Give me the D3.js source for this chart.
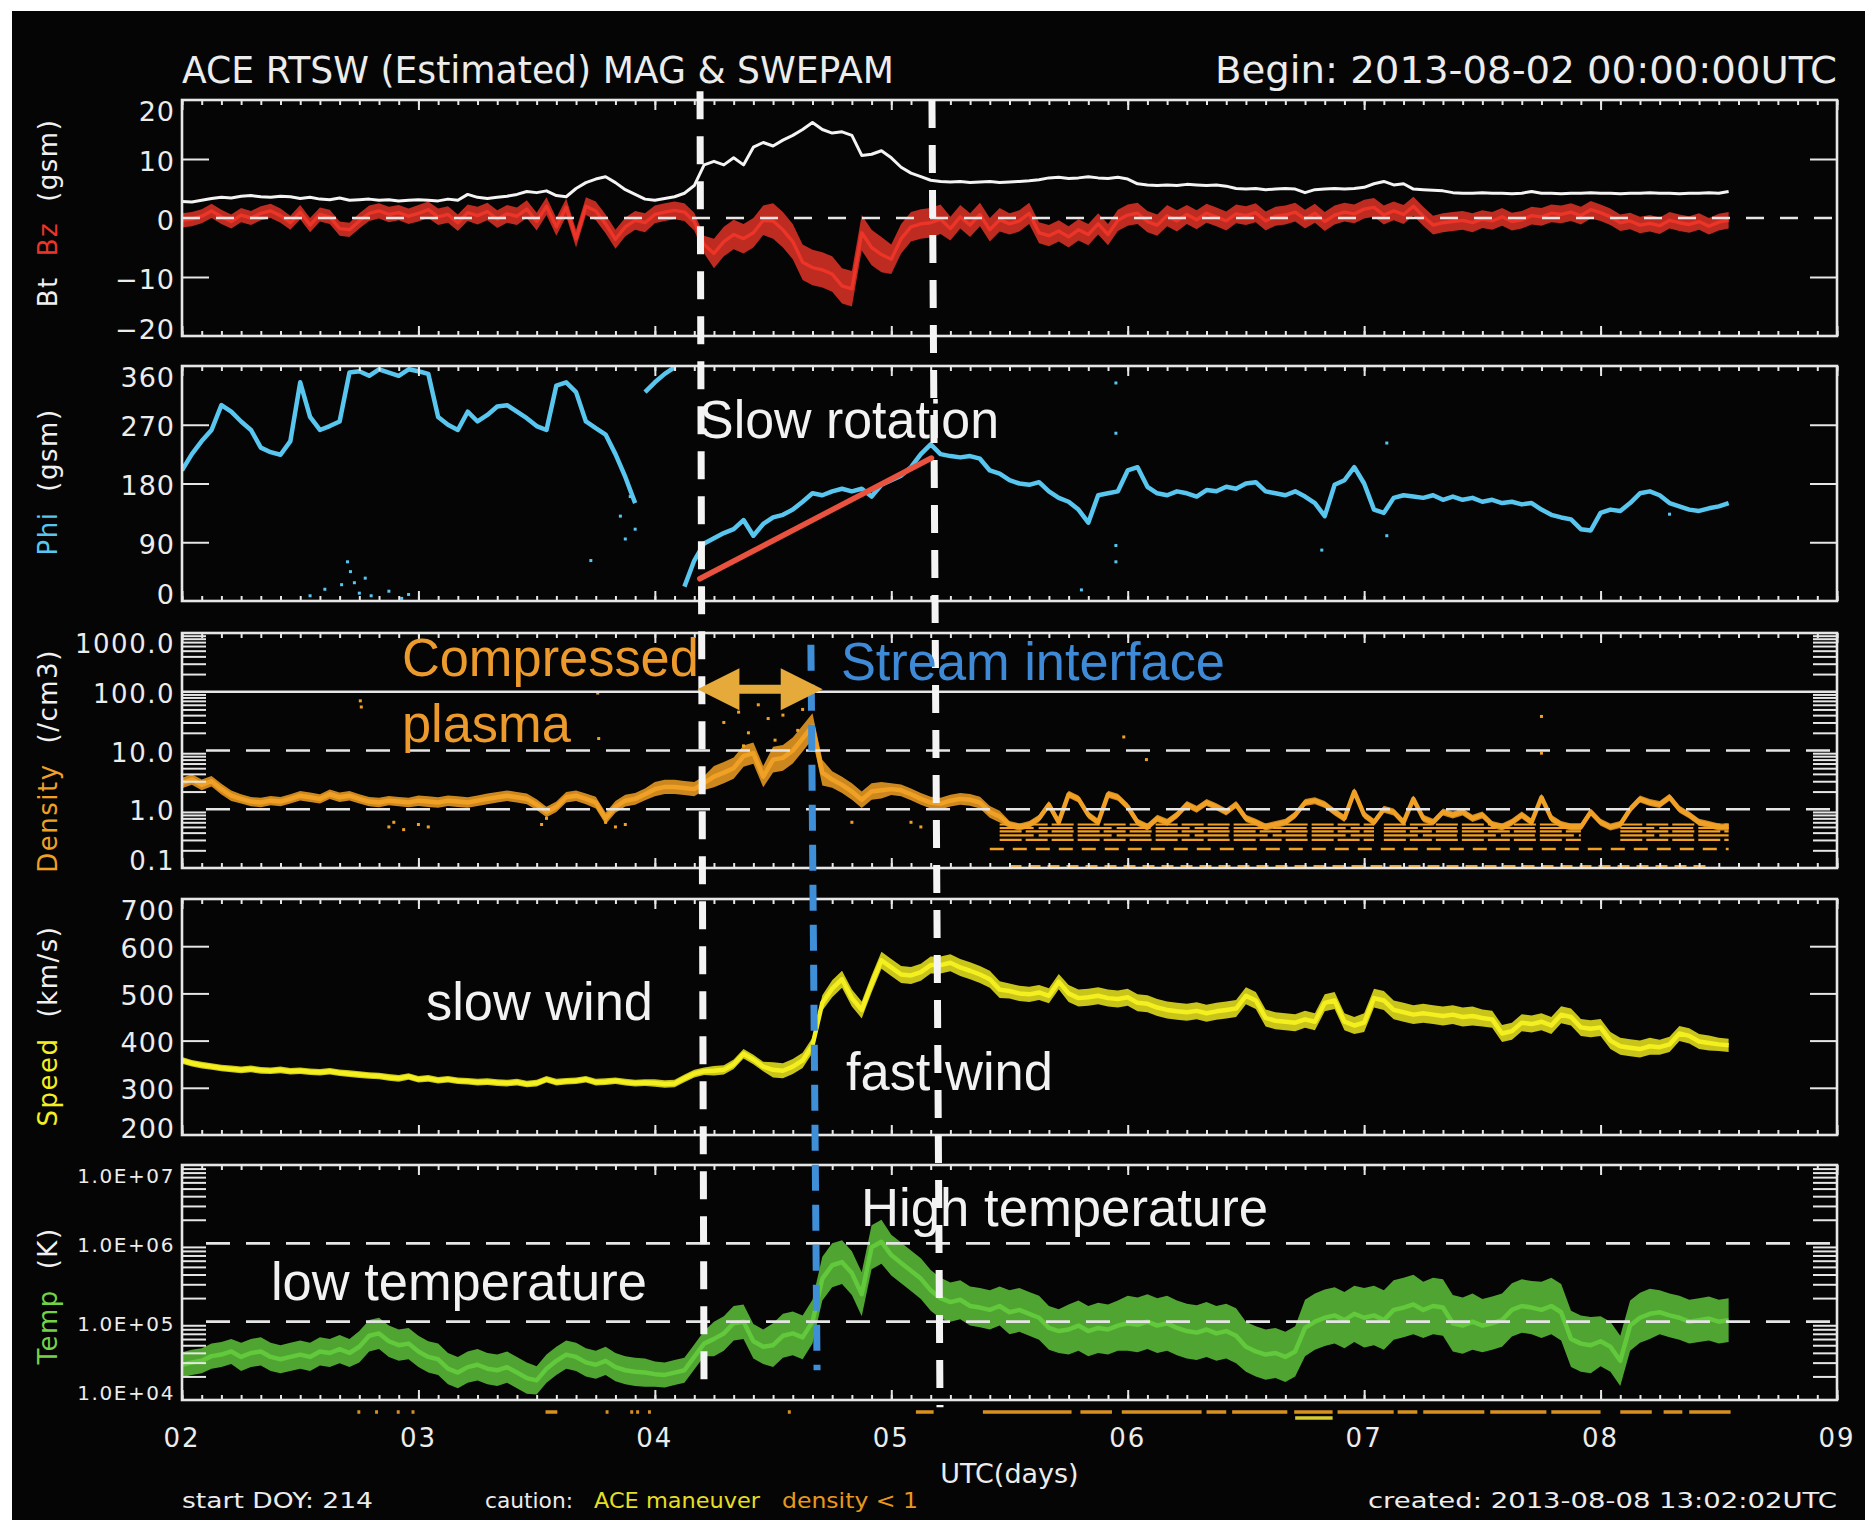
<!DOCTYPE html>
<html>
<head>
<meta charset="utf-8">
<title>ACE RTSW (Estimated) MAG &amp; SWEPAM</title>
<script src="https://cdn.jsdelivr.net/npm/d3@7"></script>
<style>
  html, body { margin: 0; padding: 0; background: #fff; }
  svg { display: block; }
</style>
</head>
<body>
<svg id="chart" width="1865" height="1520"></svg>
<script>
// ---------------------------------------------------------------
// Hourly samples starting 2013-08-02 00:00 UTC (index = hour).
// ---------------------------------------------------------------
const dayTicks  = [2, 3, 4, 5, 6, 7, 8, 9];
const dayLabels = ["02", "03", "04", "05", "06", "07", "08", "09"];

// Bt, nT
const btValues = [
  2.8,2.7,3.0,3.3,3.5,3.4,3.7,3.8,3.6,3.5,
  3.7,3.6,3.3,3.5,3.2,3.1,3.4,3.0,3.1,3.2,
  3.0,3.1,2.9,3.0,3.1,3.0,2.9,3.2,3.0,4.0,
  3.5,3.3,3.5,3.7,4.0,4.5,4.3,4.6,3.8,3.6,
  5.0,6.0,6.6,7.0,6.0,4.8,4.0,3.2,3.0,3.3,
  3.6,4.2,5.5,9.0,9.6,9.0,10.2,9.0,12.0,12.8,
  12.2,13.2,14.0,15.0,16.2,15.0,14.4,14.6,14.0,10.6,
  10.8,11.4,10.2,8.6,7.6,7.0,6.4,6.2,6.1,6.2,
  6.0,6.1,6.2,6.0,6.1,6.2,6.3,6.5,6.8,6.9,
  6.7,6.8,7.0,6.8,6.7,6.9,6.6,5.8,5.6,5.5,
  5.6,5.5,5.7,5.6,5.5,5.6,5.4,5.0,4.9,5.0,
  4.8,4.9,5.0,4.9,4.3,4.8,4.9,5.0,4.9,5.0,
  5.2,5.8,6.2,5.6,5.8,4.9,4.8,4.7,4.6,4.3,
  4.2,4.2,4.3,4.2,4.2,4.1,4.2,4.5,4.2,4.2,
  4.1,4.2,4.2,4.3,4.2,4.2,4.1,4.2,4.2,4.3,
  4.2,4.2,4.1,4.2,4.2,4.3,4.2,4.5
];

// Bz (GSM), nT
const bzValues = [
  -0.4,-0.2,0.3,1.2,0.2,-0.6,0.5,0.0,0.8,1.2,
  0.4,-0.8,1.0,-1.2,0.6,0.2,-1.8,-2.0,-0.5,0.8,
  1.2,0.6,0.9,0.3,0.8,1.4,0.2,0.6,-0.8,0.9,
  0.4,1.1,-0.2,0.7,0.3,1.5,-0.6,2.0,-1.5,1.8,
  -3.5,2.0,1.2,-1.0,-3.6,-1.5,-0.4,-0.8,0.6,1.0,
  1.3,1.0,-0.6,-4.5,-6.0,-4.0,-2.8,-3.5,-2.5,-0.4,
  -0.5,-2.0,-4.0,-7.5,-8.4,-8.8,-9.5,-11.5,-12.0,-2.5,
  -5.0,-6.2,-7.0,-3.5,-1.5,-1.0,-0.8,-0.2,-1.8,0.2,
  -1.2,0.6,-2.0,-0.3,-1.0,-0.5,0.8,-2.5,-3.0,-2.2,
  -3.2,-2.0,-2.8,-1.0,-2.8,-0.4,0.5,0.8,-0.6,-1.2,
  0.4,-0.5,0.6,-0.3,0.8,0.2,-0.5,0.7,0.4,0.9,
  -0.5,0.3,0.5,1.0,-0.2,0.8,-0.6,0.5,1.0,0.7,
  1.5,1.8,0.5,1.2,0.6,2.0,0.3,-1.2,-0.8,-0.6,
  -0.4,-0.8,-0.2,-0.5,0.2,-0.6,-0.3,0.4,0.2,0.8,
  0.6,1.0,0.4,1.4,0.9,0.2,-0.8,-0.5,-1.2,-0.9,
  -1.3,-0.4,-0.8,-1.1,-0.6,-1.4,-0.7,-0.4
];
// scatter half-width of Bz per 6-hour block, nT
const bzSpread = [
  1.2,1.2,1.2,1.3,1.4,1.5,1.5,1.6,1.5,2.5,3.0,3.0,2.5,2.0,
  1.8,1.8,1.8,1.6,1.6,1.6,1.6,1.6,1.5,1.5,1.4,1.4,1.4
];

// Phi (GSM), degrees
const phiValues = [
  200,225,245,262,300,290,275,262,235,228,
  224,245,335,282,262,268,275,350,352,345,
  355,350,345,355,352,348,282,270,262,290,
  275,285,298,300,290,280,268,262,330,335,
  320,275,265,255,225,190,150,320,335,348,
  358,22,62,88,96,104,110,124,100,118,
  128,132,140,152,165,162,168,172,168,172,
  160,178,185,192,205,225,240,225,222,220,
  222,218,200,195,185,180,178,182,168,158,
  152,140,120,162,165,168,200,205,175,165,
  162,168,165,160,170,168,175,172,180,182,
  168,165,162,168,160,150,130,178,185,205,
  180,140,135,158,162,160,158,162,155,160,
  155,158,152,155,150,152,148,150,140,132,
  128,125,110,108,135,140,138,150,165,168,
  162,150,145,140,138,142,145,150
];
// isolated Phi samples [hour, degrees]
const phiScatter = [
  [13,8],[14.5,18],[16.2,25],[16.8,60],[17.1,45],[17.5,28],[18,12],[18.6,35],
  [19.2,8],[21,15],[22.3,4],[23,10],[41.5,62],[44.5,130],[45,95],[45.5,160],
  [46,110],[91.3,17],[94.8,334],[94.8,257],[94.8,85],[94.8,60],[115.7,78],
  [122.3,242],[122.3,100],[151,133]
];

// proton density, /cm3
const densityValues = [
  2.8,3.2,2.6,3.0,2.2,1.7,1.5,1.35,1.3,1.4,
  1.35,1.5,1.7,1.6,1.5,1.8,1.6,1.7,1.5,1.35,
  1.3,1.4,1.35,1.3,1.4,1.35,1.3,1.4,1.35,1.3,
  1.4,1.5,1.6,1.7,1.6,1.5,1.2,0.9,1.1,1.6,
  1.7,1.5,1.3,0.7,1.1,1.4,1.5,1.8,2.2,2.4,
  2.4,2.3,2.2,2.8,3.6,4.2,5.0,8.0,9.0,3.6,
  7.0,7.5,10,16,26,4.2,3.2,2.6,2.0,1.45,
  2.0,2.1,2.2,2.1,1.8,1.5,1.3,1.25,1.4,1.5,
  1.45,1.3,0.9,0.75,0.55,0.5,0.55,0.7,1.2,0.6,
  1.8,1.5,0.8,0.6,1.8,1.6,1.1,0.6,0.5,0.7,
  0.6,0.8,1.2,1.0,1.3,1.1,0.9,1.2,0.7,0.6,
  0.5,0.55,0.6,0.8,1.3,1.4,1.2,0.9,0.7,2.0,
  0.8,0.6,1.0,0.9,0.6,1.5,0.7,0.6,0.9,0.8,
  0.9,0.7,0.8,0.55,0.5,0.6,0.8,0.6,1.6,0.7,
  0.55,0.5,0.5,0.9,0.6,0.5,0.55,1.0,1.5,1.3,
  1.2,1.6,1.0,0.8,0.6,0.55,0.5,0.5
];
// scatter half-width of density per 6-hour block, dex
const densitySpread = [
  0.09,0.08,0.08,0.08,0.09,0.09,0.09,0.10,0.12,0.18,0.22,0.14,0.10,0.10,
  0.06,0.06,0.06,0.06,0.06,0.06,0.06,0.06,0.06,0.06,0.06,0.06,0.06
];
// isolated density samples [hour, /cm3]
const densityScatter = [
  [55,30],[56.5,45],[57.5,20],[58.5,60],[59.5,35],[61,40],[62.5,22],[63,50],
  [60.2,15],[57,12],[21,0.5],[21.5,0.6],[22.5,0.45],[24,0.55],[25,0.5],
  [36.5,0.55],[37,0.7],[43,0.6],[44,0.5],[45,0.55],[18.1,70],[18.2,55],
  [42.2,95],[42.3,16],[68,0.6],[74,0.6],[75,0.5],[95.6,17],[97.9,7],
  [138,38],[138,9]
];
// quantised low-density rows (density < 1 flag) [startHour, endHour]
const densityFloorLevels = [0.55, 0.48, 0.42, 0.36, 0.30];
const densityFloorSpans  = [[83,121],[122,142],[146,157]];
const densityLowRow      = 0.21;

// bulk speed, km/s
const speedValues = [
  358,352,348,345,342,340,338,340,337,336,
  338,335,336,334,333,335,332,330,328,326,
  325,322,320,324,318,320,316,318,315,314,
  312,313,311,310,312,308,310,318,312,314,
  315,318,312,313,315,312,310,311,310,308,
  309,320,330,335,336,338,350,372,360,345,
  338,336,345,358,390,480,510,530,490,465,
  520,570,555,540,538,545,560,560,565,555,
  548,540,530,508,505,500,498,502,495,525,
  500,490,492,495,490,488,492,480,478,470,
  465,462,460,463,458,462,465,468,495,485,
  448,442,440,438,445,440,480,485,440,432,
  438,490,485,465,460,455,458,455,452,455,
  450,452,448,445,415,420,438,435,440,432,
  455,450,428,425,428,400,388,385,382,388,
  386,392,415,410,398,395,392,390
];
// scatter half-width of speed per 6-hour block, km/s
const speedSpread = [
  7,7,7,7,7,7,7,7,8,10,16,18,18,18,16,18,18,18,18,18,20,20,18,18,18,16,14
];

// ion temperature, log10(K)
const tempLog10 = [
  4.45,4.48,4.50,4.56,4.58,4.62,4.55,4.60,4.62,4.55,
  4.52,4.55,4.58,4.55,4.62,4.60,4.65,4.60,4.68,4.82,
  4.85,4.75,4.70,4.72,4.62,4.55,4.52,4.40,4.35,4.42,
  4.45,4.40,4.38,4.42,4.35,4.28,4.25,4.40,4.50,4.58,
  4.55,4.48,4.45,4.50,4.42,4.38,4.36,4.35,4.33,4.32,
  4.35,4.38,4.55,4.72,4.78,4.85,4.98,5.00,4.75,4.68,
  4.70,4.82,4.85,4.80,5.00,5.55,5.72,5.76,5.62,5.35,
  5.95,6.02,5.85,5.75,5.65,5.55,5.40,5.30,5.25,5.28,
  5.20,5.18,5.15,5.20,5.12,5.15,5.10,5.05,4.92,4.88,
  4.90,4.95,4.88,4.92,4.90,4.95,4.98,4.96,5.00,4.95,
  4.98,4.92,4.88,4.86,4.90,4.85,4.88,4.82,4.68,4.62,
  4.58,4.60,4.55,4.62,4.92,5.00,5.05,5.08,5.02,5.10,
  5.05,5.08,5.02,5.15,5.18,5.22,5.15,5.20,5.18,4.98,
  4.95,5.00,4.95,4.98,5.02,5.15,5.20,5.18,5.15,5.20,
  5.12,4.78,4.72,4.70,4.75,4.68,4.50,4.95,5.05,5.10,
  5.12,5.08,5.05,5.00,5.02,5.04,5.00,5.02
];
// scatter half-width of the temperature cloud per 6-hour block, dex
const tempSpread = [
  0.16,0.18,0.18,0.20,0.20,0.20,0.18,0.18,0.16,0.22,0.28,0.28,0.26,0.25,
  0.28,0.32,0.35,0.35,0.32,0.36,0.38,0.36,0.34,0.36,0.32,0.28,0.28
];

// data-quality flags [startHour, endHour]
const cautionDensity = [
  [17.8,18.1],[19.6,19.9],[21.8,22.1],[23.3,23.6],[36.9,38.1],[43,43.3],
  [45.5,45.8],[46.1,46.4],[47.3,47.6],[61.5,61.8],[74.5,76.3],[81.3,90.3],
  [91.2,94.4],[95.4,103.5],[104,106],[106.6,112.2],[112.9,116.8],[117.3,123],
  [123.4,125.4],[126,132.2],[132.8,138.5],[139,144],[146,149.2],[150.4,152.3],
  [153,157.2]
];
const cautionManeuver = [[113, 116.8]];

// event annotations
const boundaryLines = [
  { start: [4.191, "mag", 21.5], end: [4.208, "tmp", 1.26e4], color: "#f4f4f4", dash: "28 17" },
  { start: [5.172, "mag", 20.0], end: [5.206, "tmp", 8.1e3],  color: "#f4f4f4", dash: "28 17" },
  { start: [4.660, "den", 630],  end: [4.686, "tmp", 2.4e4],  color: "#3f8fd8", dash: "26 14" }
];
const rotationTrend   = [[4.19, 34], [5.17, 219]];   // Phi panel
const compressionSpan = [4.18, 4.71];                // density panel, drawn at 110 /cm3
const annotations = [
  { text: "Slow rotation",    t: 4.187, panel: "phi", v: 250,    len: 300, color: "#f2f2f2" },
  { text: "Compressed",       t: 2.930, panel: "den", v: 186,    len: 297, color: "#ec9a2c" },
  { text: "plasma",           t: 2.930, panel: "den", v: 14,     len: 169, color: "#ec9a2c" },
  { text: "Stream interface", t: 4.787, panel: "den", v: 160,    len: 384, color: "#3f8ad6" },
  { text: "slow wind",        t: 3.032, panel: "spd", v: 444,    len: 227, color: "#f2f2f2" },
  { text: "fast wind",        t: 4.808, panel: "spd", v: 296,    len: 207, color: "#f2f2f2" },
  { text: "High temperature", t: 4.872, panel: "tmp", v: 1.68e6, len: 407, color: "#f2f2f2" },
  { text: "low temperature",  t: 2.376, panel: "tmp", v: 1.9e5,  len: 376, color: "#f2f2f2" }
];

// ---------------------------------------------------------------
const svg = d3.select("#chart");
const AXF = "'DejaVu Sans', 'Liberation Sans', sans-serif";
const ANF = "'Liberation Sans', Arial, Helvetica, sans-serif";
const FRAME = "#e6e6e6";

svg.append("rect").attr("width", 1865).attr("height", 1520).attr("fill", "#ffffff");
svg.append("rect").attr("x", 12).attr("y", 11).attr("width", 1853).attr("height", 1509).attr("fill", "#050505");

const X0 = 182, X1 = 1837;
const x = d3.scaleLinear().domain([2, 9]).range([X0, X1]);
const toSeries = vals => vals.map((v, h) => ({ t: 2 + h / 24, v }));

const panels = {
  mag: { top: 100, bottom: 336, y: d3.scaleLinear().domain([-20, 20]).range([336, 100]) },
  phi: { top: 366, bottom: 601, y: d3.scaleLinear().domain([0, 360]).range([601, 366]) },
  den: { top: 633, bottom: 868, y: d3.scaleLog().domain([0.1, 1000]).range([868, 633]) },
  spd: { top: 899, bottom: 1135, y: d3.scaleLinear().domain([200, 700]).range([1135, 899]) },
  tmp: { top: 1165, bottom: 1400, y: d3.scaleLog().domain([1e4, 1e7]).range([1400, 1165]) }
};

const defs = svg.append("defs");
Object.entries(panels).forEach(([k, p]) => {
  defs.append("clipPath").attr("id", "clip-" + k)
    .append("rect").attr("x", X0).attr("y", p.top).attr("width", X1 - X0).attr("height", p.bottom - p.top);
});
const plotLayer = k => svg.append("g").attr("clip-path", `url(#clip-${k})`);

// ---------------- data layers ----------------
// band (scatter cloud) + core line; "lin" adds spread, "log" multiplies by 10^spread,
// "tlog" series are stored as log10 values
function drawCloud(k, values, spread, mode, color, opacity, width) {
  const p = panels[k];
  const val = mode === "tlog" ? (v => Math.pow(10, v)) : (v => v);
  const pts = values.map((v, h) => ({ t: 2 + h / 24, v, s: spread ? spread[Math.floor(h / 6)] : 0 }));
  const lo = d => mode === "lin" ? d.v - d.s : mode === "log" ? d.v / Math.pow(10, d.s) : Math.pow(10, d.v - d.s);
  const hi = d => mode === "lin" ? d.v + d.s : mode === "log" ? d.v * Math.pow(10, d.s) : Math.pow(10, d.v + d.s);
  const g = plotLayer(k);
  if (spread) {
    g.append("path").datum(pts)
      .attr("fill", color).attr("fill-opacity", opacity)
      .attr("d", d3.area().x(d => x(d.t)).y0(d => p.y(lo(d))).y1(d => p.y(hi(d))));
  }
  g.append("path").datum(pts)
    .attr("fill", "none").attr("stroke", color).attr("stroke-width", width)
    .attr("stroke-linejoin", "round")
    .attr("d", d3.line().x(d => x(d.t)).y(d => p.y(val(d.v))));
  return g;
}

// Bt / Bz
drawCloud("mag", bzValues, bzSpread, "lin", "#ec3528", 0.8, 3.4);
drawCloud("mag", btValues, null, "lin", "#f4f4f4", 0, 3);

// Phi: split wherever the angle wraps or jumps
(function () {
  const p = panels.phi;
  const pts = toSeries(phiValues);
  const segs = [];
  let cur = [pts[0]];
  for (let i = 1; i < pts.length; i++) {
    if (Math.abs(pts[i].v - pts[i - 1].v) > 120) { segs.push(cur); cur = []; }
    cur.push(pts[i]);
  }
  segs.push(cur);
  const g = plotLayer("phi");
  const line = d3.line().x(d => x(d.t)).y(d => p.y(d.v));
  segs.forEach(s => {
    if (s.length > 1) g.append("path").datum(s).attr("fill", "none").attr("stroke", "#58c6ee")
      .attr("stroke-width", 4.5).attr("stroke-linejoin", "round").attr("d", line);
    else g.append("rect").attr("x", x(s[0].t) - 2).attr("y", p.y(s[0].v) - 2)
      .attr("width", 4).attr("height", 4).attr("fill", "#58c6ee");
  });
  g.selectAll("rect.pt").data(phiScatter).join("rect").attr("class", "pt")
    .attr("x", d => x(2 + d[0] / 24) - 1.5).attr("y", d => p.y(d[1]) - 1.5)
    .attr("width", 3).attr("height", 3).attr("fill", "#58c6ee");
})();

// density
(function () {
  const p = panels.den;
  const ORANGE = "#f0a024";
  const g = drawCloud("den", densityValues, densitySpread, "log", ORANGE, 0.85, 4.5);
  densityFloorLevels.forEach((lv, i) => {
    densityFloorSpans.forEach(s => {
      g.append("line")
        .attr("x1", x(2 + s[0] / 24)).attr("x2", x(2 + s[1] / 24))
        .attr("y1", p.y(lv)).attr("y2", p.y(lv))
        .attr("stroke", ORANGE).attr("stroke-width", 2.2)
        .attr("stroke-dasharray", i % 2 ? "34 5" : "22 4");
    });
  });
  g.append("line")
    .attr("x1", x(2 + 82 / 24)).attr("x2", x(2 + 157 / 24))
    .attr("y1", p.y(densityLowRow)).attr("y2", p.y(densityLowRow))
    .attr("stroke", ORANGE).attr("stroke-width", 2.4).attr("stroke-dasharray", "14 9");
  g.selectAll("rect.pt").data(densityScatter).join("rect").attr("class", "pt")
    .attr("x", d => x(2 + d[0] / 24) - 1.5).attr("y", d => p.y(d[1]) - 1.5)
    .attr("width", 3).attr("height", 3).attr("fill", ORANGE);
  // samples pinned to the lower limit
  g.append("line")
    .attr("x1", x(2 + 84 / 24)).attr("x2", x(2 + 155 / 24))
    .attr("y1", p.bottom - 1.5).attr("y2", p.bottom - 1.5)
    .attr("stroke", ORANGE).attr("stroke-width", 3).attr("stroke-dasharray", "12 7");
})();

// speed
drawCloud("spd", speedValues, speedSpread, "lin", "#f4ef1e", 0.82, 4.5);

// temperature
drawCloud("tmp", tempLog10, tempSpread, "tlog", "#62c83c", 0.82, 4.5);

// ---------------- frames, grid, ticks, labels ----------------
const minorTimes = d3.range(0, 7 * 12 + 1).map(i => 2 + i / 12);
function logMinor(lo, hi) {
  const out = [];
  for (let e = lo; e < hi; e++) for (let m = 2; m <= 9; m++) out.push(m * Math.pow(10, e));
  return out;
}

const axisCfg = {
  mag: { labels: [20, 10, 0, -10, -20], fmt: d => d < 0 ? "\u2212" + Math.abs(d) : String(d),
         inner: [10, -10], dashed: [0], solid: [], size: 27, ls: 1 },
  phi: { labels: [360, 270, 180, 90, 0], fmt: String, inner: [90, 180, 270], dashed: [], solid: [], size: 27, ls: 1 },
  den: { labels: [1000, 100, 10, 1, 0.1], fmt: d => d.toFixed(1), inner: [], minor: logMinor(-1, 3),
         dashed: [1, 10], solid: [100], size: 26, ls: 1.5 },
  spd: { labels: [700, 600, 500, 400, 300, 200], fmt: String, inner: [300, 400, 500, 600], dashed: [], solid: [], size: 27, ls: 1 },
  tmp: { labels: [1e7, 1e6, 1e5, 1e4], fmt: d => "1.0E+0" + Math.round(Math.log10(d)), inner: [], minor: logMinor(4, 7),
         dashed: [1e5, 1e6], solid: [], size: 20, ls: 1.6 }
};

function styleAxis(g) {
  g.selectAll(".domain").remove();
  g.selectAll("text").remove();
  g.selectAll("line").attr("stroke", FRAME).attr("stroke-width", 2);
}

Object.entries(panels).forEach(([k, p]) => {
  const c = axisCfg[k];
  const g = svg.append("g");
  const dashStart = c.minor ? X0 + 24 : X0;

  c.dashed.forEach(v => {
    g.append("line").attr("x1", dashStart).attr("x2", X1).attr("y1", p.y(v)).attr("y2", p.y(v))
      .attr("stroke", FRAME).attr("stroke-width", 2.6)
      .attr("stroke-dasharray", k === "mag" ? "18 16" : "24 16");
  });
  c.solid.forEach(v => {
    g.append("line").attr("x1", X0).attr("x2", X1).attr("y1", p.y(v)).attr("y2", p.y(v))
      .attr("stroke", FRAME).attr("stroke-width", 2.6);
  });

  // time ticks on top and bottom edges
  [["bottom", d3.axisBottom], ["top", d3.axisTop]].forEach(([edge, fn]) => {
    const yy = p[edge];
    g.append("g").attr("transform", `translate(0,${yy})`)
      .call(fn(x).tickValues(minorTimes).tickSize(-5)).call(styleAxis);
    g.append("g").attr("transform", `translate(0,${yy})`)
      .call(fn(x).tickValues(dayTicks).tickSize(-10)).call(styleAxis);
  });

  // value ticks on both sides
  if (c.inner.length) {
    g.append("g").attr("transform", `translate(${X0},0)`)
      .call(d3.axisLeft(p.y).tickValues(c.inner).tickSize(-27)).call(styleAxis);
    g.append("g").attr("transform", `translate(${X1},0)`)
      .call(d3.axisRight(p.y).tickValues(c.inner).tickSize(-27)).call(styleAxis);
  }
  if (c.minor) {
    g.append("g").attr("transform", `translate(${X0},0)`)
      .call(d3.axisLeft(p.y).tickValues(c.minor).tickSize(-24)).call(styleAxis);
    g.append("g").attr("transform", `translate(${X1},0)`)
      .call(d3.axisRight(p.y).tickValues(c.minor).tickSize(-24)).call(styleAxis);
  }

  g.append("rect").attr("x", X0).attr("y", p.top).attr("width", X1 - X0).attr("height", p.bottom - p.top)
    .attr("fill", "none").attr("stroke", FRAME).attr("stroke-width", 2.6);

  g.selectAll("text.ylab").data(c.labels).join("text").attr("class", "ylab")
    .attr("x", 175)
    .attr("y", d => Math.max(p.top + 11, Math.min(p.bottom - 7, p.y(d) + 2)))
    .attr("text-anchor", "end").attr("dominant-baseline", "central")
    .attr("font-family", AXF).attr("font-size", c.size).attr("letter-spacing", c.ls)
    .attr("fill", "#ececec").text(c.fmt);
});

// vertical panel titles
const yTitles = [
  { k: "mag", cy: 213, parts: [["Bt", "#f0f0f0"], ["Bz", "#ec3528"], ["(gsm)", "#f0f0f0"]] },
  { k: "phi", cy: 482, parts: [["Phi", "#58c6ee"], ["(gsm)", "#f0f0f0"]] },
  { k: "den", cy: 761, parts: [["Density", "#f0a024"], ["(/cm3)", "#f0f0f0"]] },
  { k: "spd", cy: 1026, parts: [["Speed", "#f4ef1e"], ["(km/s)", "#f0f0f0"]] },
  { k: "tmp", cy: 1296, parts: [["Temp", "#74d246"], ["(K)", "#f0f0f0"]] }
];
yTitles.forEach(t => {
  const tx = svg.append("text")
    .attr("transform", `translate(57,${t.cy}) rotate(-90)`)
    .attr("text-anchor", "middle").attr("font-family", AXF).attr("font-size", 26)
    .attr("letter-spacing", 1.5);
  t.parts.forEach((pt, i) => tx.append("tspan").attr("dx", i ? 20 : 0).attr("fill", pt[1]).text(pt[0]));
});

// day labels
svg.selectAll("text.xlab").data(dayTicks).join("text").attr("class", "xlab")
  .attr("x", d => x(d)).attr("y", 1447).attr("text-anchor", "middle")
  .attr("font-family", AXF).attr("font-size", 26).attr("letter-spacing", 2)
  .attr("fill", "#ececec").text((d, i) => dayLabels[i]);
svg.append("text").attr("x", (X0 + X1) / 2).attr("y", 1483).attr("text-anchor", "middle")
  .attr("font-family", AXF).attr("font-size", 27).attr("fill", "#ececec").text("UTC(days)");

// flag markers under the bottom panel
svg.selectAll("line.cd").data(cautionDensity).join("line").attr("class", "cd")
  .attr("x1", d => x(2 + d[0] / 24)).attr("x2", d => x(2 + d[1] / 24))
  .attr("y1", panels.tmp.bottom + 12).attr("y2", panels.tmp.bottom + 12)
  .attr("stroke", "#d8901e").attr("stroke-width", 3.5);
svg.selectAll("line.cm").data(cautionManeuver).join("line").attr("class", "cm")
  .attr("x1", d => x(2 + d[0] / 24)).attr("x2", d => x(2 + d[1] / 24))
  .attr("y1", panels.tmp.bottom + 18).attr("y2", panels.tmp.bottom + 18)
  .attr("stroke", "#d4cc30").attr("stroke-width", 3.5);

// header and footer
function hdr(txt, xx, yy, size, len, anchor, color) {
  svg.append("text").attr("x", xx).attr("y", yy).attr("text-anchor", anchor || "start")
    .attr("font-family", AXF).attr("font-size", size).attr("fill", color || "#ececec")
    .attr("textLength", len).attr("lengthAdjust", "spacingAndGlyphs").text(txt);
}
hdr("ACE RTSW (Estimated) MAG & SWEPAM", 182, 83, 37, 712);
hdr("Begin: 2013-08-02 00:00:00UTC", 1837, 83, 37, 622, "end");
hdr("start DOY: 214", 182, 1508, 22, 191);
hdr("caution:", 485, 1508, 22, 88);
hdr("ACE maneuver", 594, 1508, 22, 166, "start", "#e6de22");
hdr("density < 1", 782, 1508, 22, 136, "start", "#e8981e");
hdr("created: 2013-08-08 13:02:02UTC", 1837, 1508, 22, 469, "end");

// ---------------- event annotations ----------------
boundaryLines.forEach(b => {
  svg.append("line")
    .attr("x1", x(b.start[0])).attr("y1", panels[b.start[1]].y(b.start[2]))
    .attr("x2", x(b.end[0])).attr("y2", panels[b.end[1]].y(b.end[2]))
    .attr("stroke", b.color).attr("stroke-width", 7).attr("stroke-dasharray", b.dash);
});

svg.append("line")
  .attr("x1", x(rotationTrend[0][0])).attr("y1", panels.phi.y(rotationTrend[0][1]))
  .attr("x2", x(rotationTrend[1][0])).attr("y2", panels.phi.y(rotationTrend[1][1]))
  .attr("stroke", "#e8523e").attr("stroke-width", 5.5).attr("stroke-linecap", "round");

(function () {
  const xl = x(compressionSpan[0]), xr = x(compressionSpan[1]);
  const yc = panels.den.y(110);
  const hl = 42, hh = 21, sh = 4.5;
  const pts = [
    [xl, yc], [xl + hl, yc - hh], [xl + hl, yc - sh], [xr - hl, yc - sh], [xr - hl, yc - hh],
    [xr, yc], [xr - hl, yc + hh], [xr - hl, yc + sh], [xl + hl, yc + sh], [xl + hl, yc + hh]
  ];
  svg.append("path").attr("d", "M" + pts.map(q => q.join(",")).join("L") + "Z").attr("fill", "#e6aa3a");
})();

annotations.forEach(a => {
  svg.append("text")
    .attr("x", x(a.t)).attr("y", panels[a.panel].y(a.v))
    .attr("font-family", ANF).attr("font-size", 54).attr("fill", a.color)
    .attr("textLength", a.len).attr("lengthAdjust", "spacingAndGlyphs")
    .text(a.text);
});
</script>
</body>
</html>
